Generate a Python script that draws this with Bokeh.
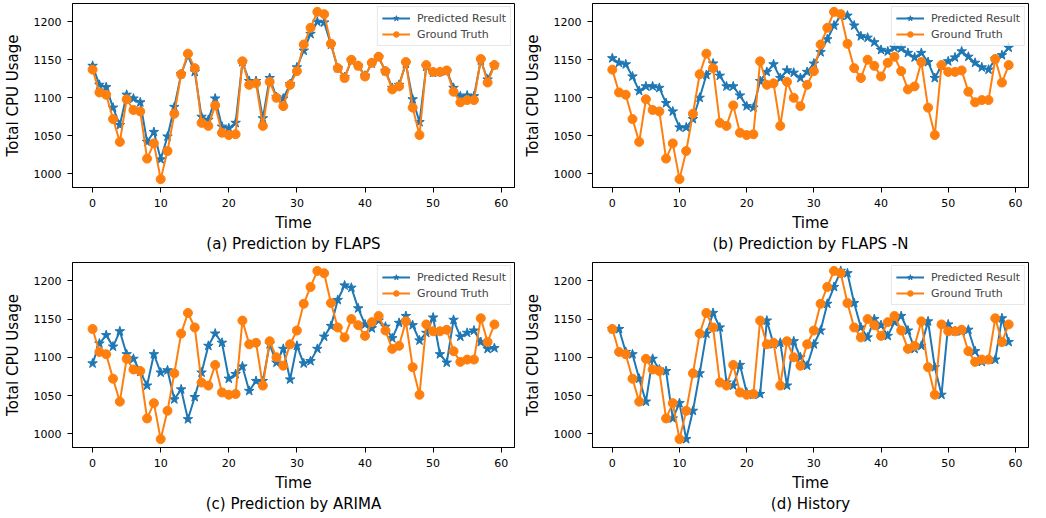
from bokeh.plotting import figure
from bokeh.layouts import column, row
from bokeh.models import Title, FixedTicker, Range1d
from bokeh.embed import file_html
from bokeh.resources import INLINE

time = list(range(60))

ground_truth = [1137, 1107, 1104, 1072, 1042, 1098, 1084, 1082, 1020, 1040,
                993, 1030, 1079, 1131, 1158, 1139, 1067, 1063, 1090, 1054,
                1051, 1052, 1148, 1117, 1119, 1063, 1121, 1100, 1089, 1117,
                1135, 1170, 1192, 1213, 1210, 1171, 1139, 1126, 1150, 1142,
                1128, 1146, 1154, 1135, 1111, 1115, 1147, 1087, 1051, 1143,
                1134, 1134, 1136, 1108, 1094, 1097, 1097, 1151, 1120, 1143]

pred_flaps = [1142, 1117, 1114, 1087, 1064, 1104, 1099, 1094, 1042, 1055,
              1019, 1049, 1088, 1131, 1155, 1134, 1075, 1071, 1099, 1062,
              1060, 1067, 1147, 1122, 1122, 1073, 1126, 1101, 1099, 1118,
              1140, 1162, 1184, 1200, 1199, 1170, 1139, 1127, 1149, 1142,
              1129, 1145, 1153, 1135, 1113, 1117, 1145, 1098, 1068, 1141,
              1133, 1134, 1135, 1113, 1102, 1103, 1102, 1149, 1124, 1143]

pred_flaps_n = [1152, 1146, 1144, 1128, 1109, 1115, 1115, 1113, 1093, 1082,
                1061, 1061, 1072, 1100, 1130, 1145, 1129, 1115, 1115, 1103,
                1089, 1087, 1122, 1134, 1144, 1126, 1136, 1133, 1126, 1134,
                1145, 1160, 1177, 1195, 1208, 1208, 1195, 1181, 1179, 1173,
                1163, 1161, 1166, 1165, 1159, 1153, 1159, 1147, 1126, 1142,
                1148, 1153, 1161, 1154, 1146, 1140, 1137, 1151, 1156, 1166]

pred_arima = [1092, 1118, 1129, 1114, 1134, 1104, 1098, 1081, 1063, 1104,
              1080, 1083, 1045, 1058, 1019, 1048, 1080, 1115, 1131, 1119,
              1072, 1078, 1088, 1056, 1069, 1069, 1117, 1093, 1111, 1071,
              1115, 1092, 1095, 1111, 1127, 1141, 1175, 1194, 1191, 1164,
              1143, 1138, 1148, 1140, 1125, 1145, 1154, 1142, 1122, 1132,
              1152, 1104, 1093, 1149, 1127, 1132, 1135, 1120, 1111, 1112]

pred_history = [1137, 1137, 1107, 1104, 1072, 1042, 1098, 1084, 1082, 1020,
                1040, 993, 1030, 1079, 1131, 1158, 1139, 1067, 1063, 1090,
                1054, 1051, 1052, 1148, 1117, 1119, 1063, 1121, 1100, 1089,
                1117, 1135, 1170, 1192, 1213, 1210, 1171, 1139, 1126, 1150,
                1142, 1128, 1146, 1154, 1135, 1111, 1115, 1147, 1087, 1051,
                1143, 1134, 1134, 1136, 1108, 1094, 1097, 1097, 1151, 1120]

x_ticks = [0, 10, 20, 30, 40, 50, 60]
y_ticks = [1000, 1050, 1100, 1150, 1200]

captions = ["(a) Prediction by FLAPS", "(b) Prediction by FLAPS -N",
            "(c) Prediction by ARIMA", "(d) History"]

BLUE = "#1f77b4"
ORANGE = "#ff7f0e"
FONT = "DejaVu Sans"


def make(pred, caption, w, h, left, right, top, bottom):
    p = figure(width=w, height=h, x_range=Range1d(-2.95, 61.95),
               y_range=Range1d(982, 1224), output_backend="svg",
               toolbar_location=None, min_border_left=left,
               min_border_right=right, min_border_top=top,
               min_border_bottom=bottom)
    p.xgrid.visible = False
    p.ygrid.visible = False
    p.outline_line_color = "black"
    p.outline_line_width = 1
    p.outline_line_alpha = 1
    p.xaxis.ticker = FixedTicker(ticks=x_ticks)
    p.yaxis.ticker = FixedTicker(ticks=y_ticks)
    for ax in p.axis:
        ax.major_label_text_font = FONT
        ax.major_label_text_font_size = "11px"
        ax.major_label_text_color = "black"
        ax.axis_label_text_font = FONT
        ax.axis_label_text_font_size = "15px"
        ax.axis_label_text_font_style = "normal"
        ax.axis_label_text_color = "black"
        ax.minor_tick_line_color = None
        ax.major_tick_in = 0
        ax.major_tick_out = 5
        ax.major_tick_line_color = "black"
        ax.axis_line_color = "black"
        ax.major_label_standoff = 6
    p.xaxis.axis_label = "Time"
    p.xaxis.axis_label_standoff = 4
    p.yaxis.axis_label = "Total CPU Usage"
    p.yaxis.axis_label_standoff = 9

    p.line(time, pred, color=BLUE, line_width=2, legend_label="Predicted Result")
    p.scatter(time, pred, marker="star", size=10, color=BLUE,
              legend_label="Predicted Result")
    p.line(time, ground_truth, color=ORANGE, line_width=2,
           legend_label="Ground Truth")
    p.scatter(time, ground_truth, marker="circle", size=9, color=ORANGE,
              legend_label="Ground Truth")

    lg = p.legend[0]
    lg.location = "top_right"
    lg.label_text_font = FONT
    lg.label_text_font_size = "11px"
    lg.glyph_width = 28
    lg.glyph_height = 14
    lg.label_standoff = 7
    lg.label_height = 14
    lg.padding = 4
    lg.spacing = 2
    lg.margin = 3
    lg.border_line_color = "#d0d0d0"
    lg.border_line_width = 1
    lg.background_fill_alpha = 0.8

    p.add_layout(Title(text=caption, align="center", text_font=FONT,
                       text_font_size="15px", text_font_style="normal",
                       text_color="black", standoff=0,
                       vertical_align="top"), "below")
    return p


pa = make(pred_flaps, captions[0], 520, 258, 64, 6, 3, 71)
pb = make(pred_flaps_n, captions[1], 510, 258, 69, 2, 3, 71)
pc = make(pred_arima, captions[2], 520, 256, 64, 6, 4, 67)
pd_ = make(pred_history, captions[3], 510, 256, 69, 2, 4, 67)

layout = column(row(pa, pb), row(pc, pd_))

open("out.html", "w").write(file_html(layout, INLINE))
